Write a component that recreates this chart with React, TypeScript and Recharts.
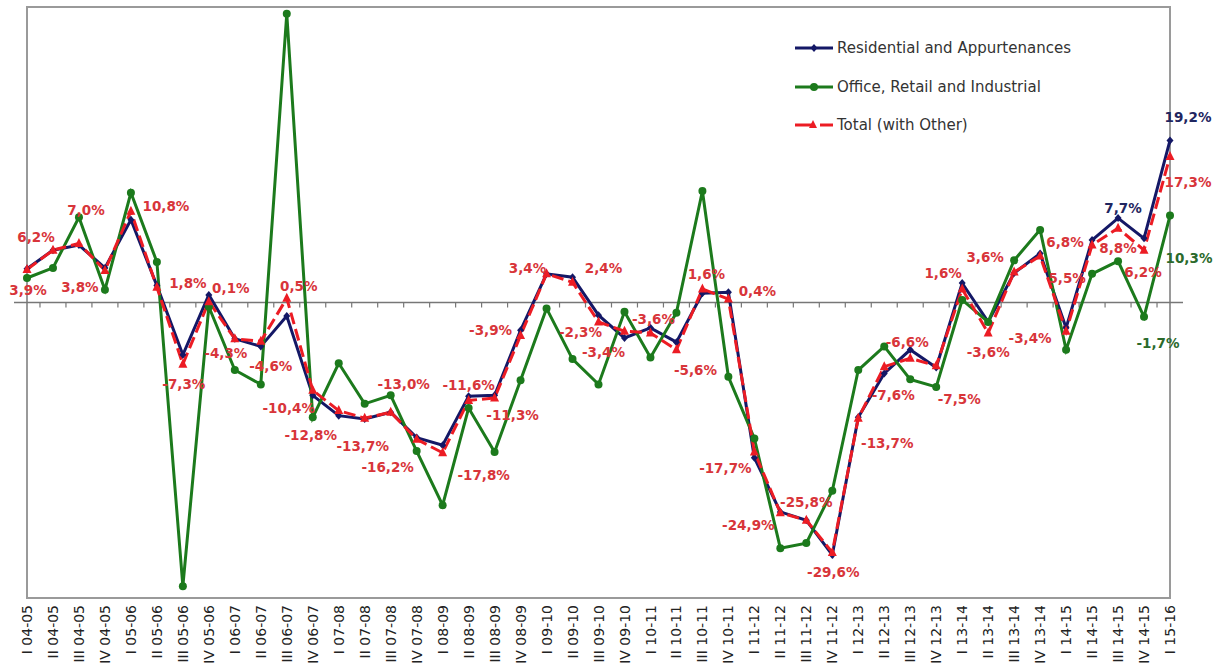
import React from 'react';
import {
  ComposedChart,
  Legend,
  LabelList,
  Line,
  ReferenceArea,
  ReferenceLine,
  XAxis,
  YAxis,
} from 'recharts';

const quarters = [
  'I 04-05', 'II 04-05', 'III 04-05', 'IV 04-05',
  'I 05-06', 'II 05-06', 'III 05-06', 'IV 05-06',
  'I 06-07', 'II 06-07', 'III 06-07', 'IV 06-07',
  'I 07-08', 'II 07-08', 'III 07-08', 'IV 07-08',
  'I 08-09', 'II 08-09', 'III 08-09', 'IV 08-09',
  'I 09-10', 'II 09-10', 'III 09-10', 'IV 09-10',
  'I 10-11', 'II 10-11', 'III 10-11', 'IV 10-11',
  'I 11-12', 'II 11-12', 'III 11-12', 'IV 11-12',
  'I 12-13', 'II 12-13', 'III 12-13', 'IV 12-13',
  'I 13-14', 'II 13-14', 'III 13-14', 'IV 13-14',
  'I 14-15', 'II 14-15', 'III 14-15', 'IV 14-15',
  'I 15-16',
];

const residential = [
  4.0, 6.2, 6.8, 4.1, 9.8, 2.0, -6.2, 0.9, -4.3, -5.2, -1.6, -11.0,
  -13.4, -13.8, -13.0, -16.0, -16.9, -11.1, -11.0, -3.3, 3.4, 3.0, -1.5, -4.2,
  -3.0, -4.7, 1.1, 1.2, -18.4, -24.8, -25.8, -29.9, -13.6, -8.4, -5.6, -7.7,
  2.3, -2.3, 3.5, 5.8, -3.0, 7.4, 10.0, 7.6, 19.2,
];

const officeRetail = [
  2.9, 4.1, 10.1, 1.5, 13.0, 4.8, -33.6, -0.5, -8.0, -9.7, 34.2, -13.6,
  -7.2, -12.0, -11.0, -17.6, -24.0, -12.5, -17.7, -9.2, -0.7, -6.7, -9.7, -1.1,
  -6.5, -1.2, 13.2, -8.8, -16.1, -29.1, -28.5, -22.3, -8.0, -5.2, -9.1, -10.0,
  0.3, -2.3, 5.0, 8.6, -5.6, 3.4, 4.9, -1.7, 10.3,
];

const total = [
  3.9, 6.2, 7.0, 3.8, 10.8, 1.8, -7.3, 0.1, -4.3, -4.6, 0.5, -10.4,
  -12.8, -13.7, -13.0, -16.2, -17.8, -11.6, -11.3, -3.9, 3.4, 2.4, -2.3, -3.4,
  -3.6, -5.6, 1.6, 0.4, -17.7, -24.9, -25.8, -29.6, -13.7, -7.6, -6.6, -7.5,
  1.6, -3.6, 3.6, 5.5, -3.4, 6.8, 8.8, 6.2, 17.3,
];

// only a few points of the first two series carry a label
const residentialLabelText: Record<number, string> = { 42: '7,7%', 44: '19,2%' };
const officeLabelText: Record<number, string> = { 43: '-1,7%', 44: '10,3%' };

const fmt = (v: number) => v.toFixed(1).replace('.', ',') + '%';
const totalLabelText: Record<number, string> = Object.fromEntries(
  total.map((v, i) => [i, fmt(v)]),
);

// label placement relative to its point (dx, dy)
const totalOffsets: [number, number][] = [
  [1, 20], [-17, -13], [7, -33], [-25, 17], [35, -5], [31, -4], [1, 20], [22, -14],
  [-9, 14], [10, 25], [12, -12], [-24, 18], [-28, 24], [-2, 28], [13, -28], [-29, 28],
  [41, 22], [0, -15], [18, 17], [-30, -5], [-19, -6], [31, -14], [-18, 10], [-21, 21],
  [3, -14], [19, 20], [4, -15], [29, -8], [-29, 16], [-32, 12], [0, -18], [1, 20],
  [29, 25], [9, 28], [-3, -16], [23, 33], [-19, -16], [0, 19], [-29, -15], [27, 22],
  [-36, 7], [-27, -3], [0, 20], [-1, 22], [18, 26],
];
const residentialOffsets: Record<number, [number, number]> = { 42: [5, -10], 44: [18, -23] };
const officeOffsets: Record<number, [number, number]> = { 43: [14, 26], 44: [19, 42] };

const data = quarters.map((q, i) => ({
  q,
  res: residential[i],
  ori: officeRetail[i],
  tot: total[i],
}));

const NAVY = '#141866';
const GREEN = '#1c7a1c';
const RED = '#ec1c24';
const FONT = 'DejaVu Sans';

const makeLabel =
  (texts: Record<number, string>, offsets: any, color: string) => (props: any) => {
    const { index } = props;
    const text = texts[index];
    if (text == null) return null;
    const x = props.x ?? props.viewBox?.x;
    const y = props.y ?? props.viewBox?.y;
    const [dx, dy] = offsets[index];
    return (
      <text
        x={x + dx}
        y={y + dy}
        textAnchor="middle"
        dominantBaseline="central"
        fill={color}
        fontSize={13.5}
        fontWeight="bold"
        fontFamily={FONT}
      >
        {text}
      </text>
    );
  };

const Diamond = (props: any) => {
  const { cx, cy } = props;
  if (cx == null || cy == null) return null;
  return (
    <polygon
      points={`${cx},${cy - 4} ${cx + 3.5},${cy} ${cx},${cy + 4} ${cx - 3.5},${cy}`}
      fill={NAVY}
    />
  );
};

const Dot = (props: any) => {
  const { cx, cy } = props;
  if (cx == null || cy == null) return null;
  return <circle cx={cx} cy={cy} r={4} fill={GREEN} />;
};

const Triangle = (props: any) => {
  const { cx, cy } = props;
  if (cx == null || cy == null) return null;
  return (
    <polygon
      points={`${cx},${cy - 5.5} ${cx + 4.5},${cy + 3.5} ${cx - 4.5},${cy + 3.5}`}
      fill={RED}
    />
  );
};

// zero line with small ticks between categories
const ZeroLine = (props: any) => {
  const { x1, x2, y1 } = props;
  const n = quarters.length;
  const step = (x2 - x1) / n;
  const ticks = [];
  for (let k = 1; k < n; k++) {
    const x = x1 + k * step;
    ticks.push(<line key={k} x1={x} x2={x} y1={y1} y2={y1 + 5} stroke="#777" strokeWidth={1.2} />);
  }
  return (
    <g>
      <line x1={x1} x2={x2} y1={y1} y2={y1} stroke="#777" strokeWidth={1.5} />
      {ticks}
    </g>
  );
};

const QuarterTick = (props: any) => {
  const { x, payload } = props;
  return (
    <g transform={`translate(${x},598)`}>
      <text
        transform="rotate(-90)"
        x={-7}
        y={0}
        dy="0.36em"
        textAnchor="end"
        fill="#222"
        fontSize={14}
        fontFamily={FONT}
      >
        {payload.value}
      </text>
    </g>
  );
};

const legendItems = [
  { name: 'Residential and Appurtenances', kind: 'res' },
  { name: 'Office, Retail and Industrial', kind: 'ori' },
  { name: 'Total (with Other)', kind: 'tot' },
];

const LegendIcon = ({ kind }: { kind: string }) => {
  if (kind === 'res') {
    return (
      <svg width={42} height={14}>
        <line x1={0} x2={38} y1={7} y2={7} stroke={NAVY} strokeWidth={3} />
        <polygon points="19,3 22.5,7 19,11 15.5,7" fill={NAVY} />
      </svg>
    );
  }
  if (kind === 'ori') {
    return (
      <svg width={42} height={14}>
        <line x1={0} x2={38} y1={7} y2={7} stroke={GREEN} strokeWidth={3} />
        <circle cx={19} cy={7} r={4} fill={GREEN} />
      </svg>
    );
  }
  return (
    <svg width={42} height={14}>
      <line x1={0} x2={17} y1={7} y2={7} stroke={RED} strokeWidth={3} />
      <polygon points="18,2 22,10 14,10" fill={RED} />
      <line x1={25} x2={38} y1={7} y2={7} stroke={RED} strokeWidth={3} />
    </svg>
  );
};

const LegendContent = () => (
  <div style={{ fontFamily: FONT, fontSize: 15, color: '#333' }}>
    {legendItems.map((it) => (
      <div
        key={it.kind}
        style={{ display: 'flex', alignItems: 'center', height: 20, marginBottom: 18.5 }}
      >
        <LegendIcon kind={it.kind} />
        <span style={{ whiteSpace: 'nowrap' }}>{it.name}</span>
      </div>
    ))}
  </div>
);

export default function App() {
  return (
    <div style={{ position: 'absolute', left: 0, top: 0, width: 1220, height: 666, background: '#fff' }}>
      <ComposedChart
        width={1220}
        height={666}
        data={data}
        margin={{ top: 7, right: 37, left: 14, bottom: 0 }}
      >
        <XAxis
          dataKey="q"
          interval={0}
          height={68}
          padding={{ left: 13, right: 13 }}
          axisLine={false}
          tickLine={false}
          tick={<QuarterTick />}
        />
        <YAxis type="number" domain={[-35, 35]} hide />
        <ReferenceArea y1={-35} y2={35} fill="none" stroke="#9a9a9a" strokeWidth={2} />
        <ReferenceLine y={0} shape={<ZeroLine />} />
        <Legend
          layout="horizontal"
          verticalAlign="middle"
          align="center"
          content={<LegendContent />}
          wrapperStyle={{ left: 795, top: 38, width: 320, height: 120 }}
        />
        <Line
          dataKey="res"
          name="Residential and Appurtenances"
          stroke={NAVY}
          strokeWidth={3}
          dot={<Diamond />}
          activeDot={false}
          isAnimationActive={false}
        >
          <LabelList content={makeLabel(residentialLabelText, residentialOffsets, '#1f2660')} />
        </Line>
        <Line
          dataKey="ori"
          name="Office, Retail and Industrial"
          stroke={GREEN}
          strokeWidth={3}
          dot={<Dot />}
          activeDot={false}
          isAnimationActive={false}
        >
          <LabelList content={makeLabel(officeLabelText, officeOffsets, '#2b6a2b')} />
        </Line>
        <Line
          dataKey="tot"
          name="Total (with Other)"
          stroke={RED}
          strokeWidth={3}
          strokeDasharray="12 5"
          dot={<Triangle />}
          activeDot={false}
          isAnimationActive={false}
        >
          <LabelList content={makeLabel(totalLabelText, totalOffsets, '#d8353a')} />
        </Line>
      </ComposedChart>
    </div>
  );
}
